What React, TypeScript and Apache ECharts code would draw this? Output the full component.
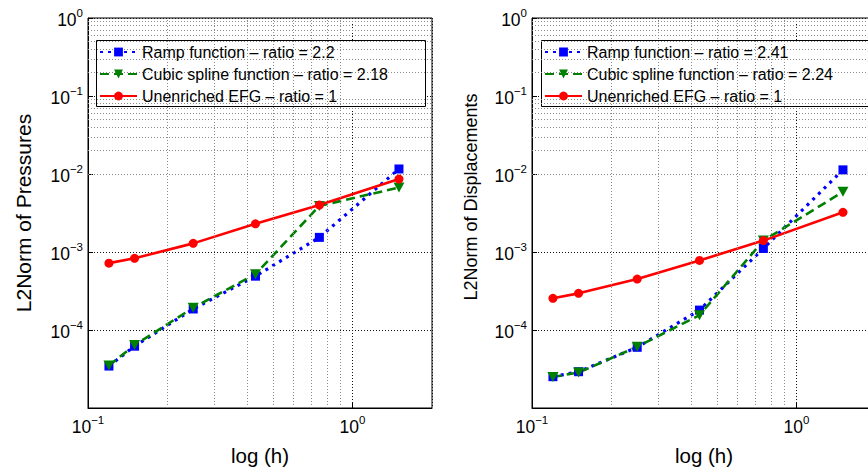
import React, { useEffect, useRef } from 'react';
import * as echarts from 'echarts';

// Mesh size h for each refinement level
const meshSizes = [0.12, 0.15, 0.25, 0.43, 0.75, 1.5];

// L2 norm of the pressure error
const pressureRamp = [3.45e-5, 6.2e-5, 1.86e-4, 4.9e-4, 1.54e-3, 1.16e-2];
const pressureCubic = [3.5e-5, 6.4e-5, 1.93e-4, 5.2e-4, 3.9e-3, 6.7e-3];
const pressureUnenriched = [7.2e-4, 8.3e-4, 1.29e-3, 2.3e-3, 4.0e-3, 8.6e-3];

// L2 norm of the displacement error
const dispRamp = [2.52e-5, 2.92e-5, 6.0e-5, 1.8e-4, 1.11e-3, 1.13e-2];
const dispCubic = [2.5e-5, 2.85e-5, 6.1e-5, 1.55e-4, 1.4e-3, 5.9e-3];
const dispUnenriched = [2.55e-4, 2.95e-4, 4.5e-4, 7.8e-4, 1.4e-3, 3.23e-3];

const pressureNames = [
  'Ramp function \u2013 ratio = 2.2',
  'Cubic spline function \u2013 ratio = 2.18',
  'Unenriched EFG \u2013 ratio = 1',
];
const dispNames = [
  'Ramp function \u2013 ratio = 2.41',
  'Cubic spline function \u2013 ratio = 2.24',
  'Unenriched EFG \u2013 ratio = 1 ',
];

const panelTitles = ['L2Norm of Pressures', 'L2Norm of Displacements'];
const xTitle = 'log (h)';

// Minor grid positions (log decades)
const minorX = [0.2, 0.3, 0.4, 0.5, 0.6, 0.7, 0.8, 0.9];
const minorMantissas = [2, 3, 4, 5, 6, 7, 8, 9];
const yDecades = [1e-5, 1e-4, 1e-3, 1e-2, 1e-1];

const FONT = '"Liberation Sans", Arial, Helvetica, sans-serif';
const BLUE = '#0000ff';
const GREEN = '#008000';
const RED = '#ff0000';
const TRI_DOWN = 'path://M0,0 L20,0 L10,17 Z';

const powerLabel = (hideExp: number | null) => (v: number) => {
  const lg = Math.log10(v);
  const e = Math.round(lg);
  if (Math.abs(lg - e) > 1e-6) return '';
  if (hideExp !== null && e === hideExp) return '';
  return `{b|10}{s|${e < 0 ? '\u2212' + -e : String(e)}}`;
};

const labelRich = {
  b: { fontSize: 17.5, fontFamily: FONT, color: '#000', lineHeight: 22, verticalAlign: 'bottom' },
  s: { fontSize: 11.5, fontFamily: FONT, color: '#000', lineHeight: 12, verticalAlign: 'top' },
};

function buildOption() {
  const panels = [
    {
      names: pressureNames, ramp: pressureRamp, cubic: pressureCubic, plain: pressureUnenriched,
      left: 88, legendX: 96, titleSize: 21, titleGap: 54, titlePad: [0, 0, 0, 0],
    },
    {
      names: dispNames, ramp: dispRamp, cubic: dispCubic, plain: dispUnenriched,
      left: 532, legendX: 541, titleSize: 18, titleGap: 52, titlePad: [0, 0, 0, 32],
    },
  ];

  const minorY: number[] = [];
  yDecades.forEach((d) => minorMantissas.forEach((m) => minorY.push(m * d)));

  const pair = (vals: number[]) => meshSizes.map((h, i) => [h, vals[i]]);

  const grid = panels.map((p) => ({
    left: p.left,
    top: 18,
    width: 344,
    height: 391,
    show: true,
    borderColor: '#000',
    borderWidth: 1,
    backgroundColor: 'transparent',
  }));

  const xAxis = panels.map((p, i) => ({
    type: 'log',
    logBase: 10,
    gridIndex: i,
    min: 0.1,
    max: 2,
    name: xTitle,
    nameLocation: 'middle',
    nameGap: 37,
    nameTextStyle: { fontSize: 20.5, fontFamily: FONT, color: '#000' },
    axisLine: { show: true, lineStyle: { color: '#000', width: 1 } },
    axisTick: { show: true, inside: true, length: 5, lineStyle: { color: '#000' } },
    axisLabel: { formatter: powerLabel(null), rich: labelRich, margin: 6, showMaxLabel: false },
    splitLine: { show: true, lineStyle: { color: '#111', type: [1, 2], width: 1 } },
  }));

  const yAxis = panels.map((p, i) => ({
    type: 'log',
    logBase: 10,
    gridIndex: i,
    min: 1e-5,
    max: 1,
    name: panelTitles[i],
    nameLocation: 'middle',
    nameGap: p.titleGap,
    nameTextStyle: { fontSize: p.titleSize, fontFamily: FONT, color: '#000', padding: p.titlePad },
    axisLine: { show: true, lineStyle: { color: '#000', width: 1 } },
    axisTick: { show: true, inside: true, length: 5, lineStyle: { color: '#000' } },
    axisLabel: { formatter: powerLabel(-5), rich: labelRich, margin: 5 },
    splitLine: { show: true, lineStyle: { color: '#111', type: [1, 2], width: 1 } },
  }));

  const series: any[] = [];
  panels.forEach((p, i) => {
    // helper series carrying the minor grid lines
    series.push({
      type: 'line',
      xAxisIndex: i,
      yAxisIndex: i,
      data: [[1, 1e-3]],
      symbol: 'none',
      silent: true,
      lineStyle: { opacity: 0 },
      z: 1,
      markLine: {
        silent: true,
        symbol: ['none', 'none'],
        label: { show: false },
        lineStyle: { color: '#8a8a8a', type: [1, 2], width: 1 },
        emphasis: { disabled: true },
        data: [...minorX.map((x) => ({ xAxis: x })), ...minorY.map((y) => ({ yAxis: y }))],
      },
    });
    series.push({
      type: 'line',
      name: p.names[0],
      xAxisIndex: i,
      yAxisIndex: i,
      data: pair(p.ramp),
      symbol: 'rect',
      symbolSize: 9,
      itemStyle: { color: BLUE },
      lineStyle: { color: BLUE, width: 3.2, type: [3, 5] },
      z: 3,
    });
    series.push({
      type: 'line',
      name: p.names[1],
      xAxisIndex: i,
      yAxisIndex: i,
      data: pair(p.cubic),
      symbol: TRI_DOWN,
      symbolSize: [11, 10],
      itemStyle: { color: GREEN },
      lineStyle: { color: GREEN, width: 2.6, type: [9, 5] },
      z: 3,
    });
    series.push({
      type: 'line',
      name: p.names[2],
      xAxisIndex: i,
      yAxisIndex: i,
      data: pair(p.plain),
      symbol: 'circle',
      symbolSize: 9,
      itemStyle: { color: RED },
      lineStyle: { color: RED, width: 2.6, type: 'solid' },
      z: 3,
    });
  });

  const legend = panels.map((p) => ({
    data: p.names,
    orient: 'vertical',
    left: p.legendX + 3,
    top: 44,
    itemWidth: 37,
    itemHeight: 11,
    itemGap: 6,
    padding: 0,
    selectedMode: false,
    z: 10,
    textStyle: { fontSize: 16, fontFamily: FONT, color: '#000' },
  }));

  const graphic = panels.map((p) => ({
    type: 'rect',
    z: 5,
    shape: { x: p.legendX + 0.5, y: 40.5, width: 329, height: 66 },
    style: { fill: '#fff', stroke: '#000', lineWidth: 1 },
  }));

  return {
    animation: false,
    backgroundColor: '#fff',
    textStyle: { fontFamily: FONT },
    grid,
    xAxis,
    yAxis,
    legend,
    graphic,
    series,
  };
}

export default function App() {
  const ref = useRef<HTMLDivElement>(null);
  useEffect(() => {
    if (!ref.current) return;
    const chart = echarts.init(ref.current, undefined, { renderer: 'svg' });
    chart.setOption(buildOption() as any);
    return () => chart.dispose();
  }, []);
  return (
    <div
      style={{
        position: 'fixed',
        left: 0,
        top: 0,
        width: 868,
        height: 471,
        overflow: 'hidden',
        background: '#fff',
      }}
    >
      <div ref={ref} style={{ width: 900, height: 471 }} />
    </div>
  );
}
